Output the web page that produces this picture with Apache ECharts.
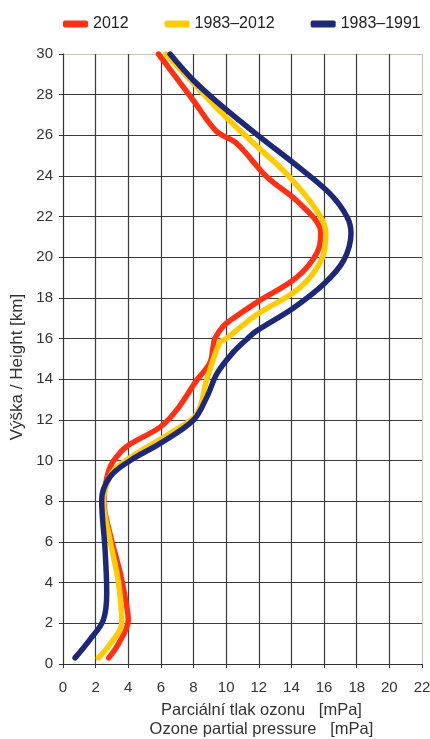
<!DOCTYPE html>
<html>
<head>
<meta charset="utf-8">
<script src="https://cdn.jsdelivr.net/npm/echarts@6/dist/echarts.min.js"></script>
<style>html,body{margin:0;padding:0;background:#fff}#c{width:430px;height:739px}</style>
</head>
<body>
<div id="c"></div>
<script>
const seriesNames = ['2012', '1983–2012', '1983–1991'];
const xTicks = [0, 2, 4, 6, 8, 10, 12, 14, 16, 18, 20, 22];
const yTicks = [0, 2, 4, 6, 8, 10, 12, 14, 16, 18, 20, 22, 24, 26, 28, 30];

// 2012 (red)
const h2012 = [0.3, 1.0, 2.16, 3.3, 4.5, 6.4, 8.0, 8.7, 9.5, 10.0, 10.7, 11.65, 12.5, 13.96, 14.8, 15.6, 16.0, 16.6, 16.9, 17.8, 19.0, 20.2, 21.2, 22.65, 23.95, 25.6, 26.2, 27.7, 30.0];
const p2012 = [2.8, 3.4, 4.0, 3.8, 3.5, 2.88, 2.5, 2.58, 2.8, 3.1, 3.9, 5.95, 6.97, 8.2, 9.0, 9.2, 9.3, 9.8, 10.25, 11.9, 14.3, 15.55, 15.8, 14.5, 12.5, 10.65, 9.4, 8.0, 5.85];

// 1983–2012 (yellow)
const h8312 = [0.3, 1.0, 2.0, 4.0, 6.1, 8.06, 9.0, 9.6, 10.35, 11.35, 12.3, 13.96, 15.8, 16.0, 17.2, 18.5, 20.0, 21.2, 22.3, 24.1, 25.75, 27.2, 28.55, 30.0];
const p8312 = [2.17, 2.9, 3.6, 3.4, 2.88, 2.47, 2.75, 3.2, 4.5, 6.56, 8.2, 8.8, 9.6, 10.0, 11.9, 14.5, 15.9, 16.1, 15.55, 13.7, 11.5, 9.6, 8.0, 6.3];

// 1983–1991 (blue)
const h8391 = [0.3, 1.2, 2.16, 3.5, 5.6, 8.06, 9.2, 10.0, 10.85, 12.0, 13.1, 14.3, 15.3, 16.0, 16.4, 17.5, 18.7, 19.85, 21.2, 22.0, 23.1, 24.4, 25.9, 27.4, 28.7, 30.0];
const p8391 = [0.74, 1.65, 2.47, 2.68, 2.58, 2.37, 2.88, 4.1, 5.95, 8.0, 8.8, 9.45, 10.4, 11.3, 11.9, 14.1, 16.0, 17.2, 17.65, 17.4, 16.4, 14.5, 12.1, 9.8, 8.0, 6.56];

const colors = ['#FF3014', '#FFCC00', '#1E2878'];
const pairs = (p, h) => p.map((v, i) => [v, h[i]]);
const datasets = [pairs(p2012, h2012), pairs(p8312, h8312), pairs(p8391, h8391)];

const gridDark = '#3a3a3a';
const xSplitColors = xTicks.map((t, i) => i === xTicks.length - 1 ? '#c4c4bc' : gridDark);
const ySplitColors = yTicks.map((t, i) => i === yTicks.length - 1 ? '#c4c4bc' : gridDark);

const chart = echarts.init(document.getElementById('c'), null, {renderer: 'canvas'});
chart.setOption({
  animation: false,
  backgroundColor: '#fff',
  textStyle: {fontFamily: 'Liberation Sans, Arial, sans-serif'},
  legend: {
    top: 16,
    left: 63,
    padding: 0,
    itemGap: 36,
    itemWidth: 25,
    itemHeight: 7,
    icon: 'roundRect',
    textStyle: {fontSize: 16, color: '#222', fontFamily: 'Liberation Sans, Arial, sans-serif'},
    data: seriesNames
  },
  grid: {left: 63, right: 8, top: 54, bottom: 75, containLabel: false, outerBoundsMode: 'none'},
  xAxis: {
    type: 'value', min: 0, max: 22, interval: 2,
    axisLine: {show: true, lineStyle: {color: '#333', width: 1}},
    axisTick: {show: true, length: 4, lineStyle: {color: '#333'}},
    axisLabel: {fontSize: 15, color: '#333', margin: 16},
    splitLine: {show: true, lineStyle: {color: xSplitColors, width: 1.2}},
    name: 'Parciální tlak ozonu   [mPa]\nOzone partial pressure   [mPa]',
    nameLocation: 'middle',
    nameGap: 37,
    nameTextStyle: {fontSize: 16.5, color: '#333', lineHeight: 19, align: 'center', padding: [0, 0, 0, 38]}
  },
  yAxis: {
    type: 'value', min: 0, max: 30, interval: 2,
    axisLine: {show: true, lineStyle: {color: '#333', width: 1}},
    axisTick: {show: true, length: 4, lineStyle: {color: '#333'}},
    axisLabel: {fontSize: 15, color: '#333', margin: 10},
    splitLine: {show: true, lineStyle: {color: ySplitColors, width: 1.2}},
    name: 'Výška / Height [km]',
    nameLocation: 'middle',
    nameGap: 36,
    nameTextStyle: {fontSize: 17, color: '#333', padding: [0, 16, 0, 0]}
  },
  series: seriesNames.map((n, i) => ({
    name: n,
    type: 'line',
    data: datasets[i],
    smooth: 0.35,
    showSymbol: false,
    symbol: 'none',
    color: colors[i],
    z: 2 + i,
    lineStyle: {width: 5.5, color: colors[i], cap: 'round', join: 'round'}
  }))
});
</script>
</body>
</html>
